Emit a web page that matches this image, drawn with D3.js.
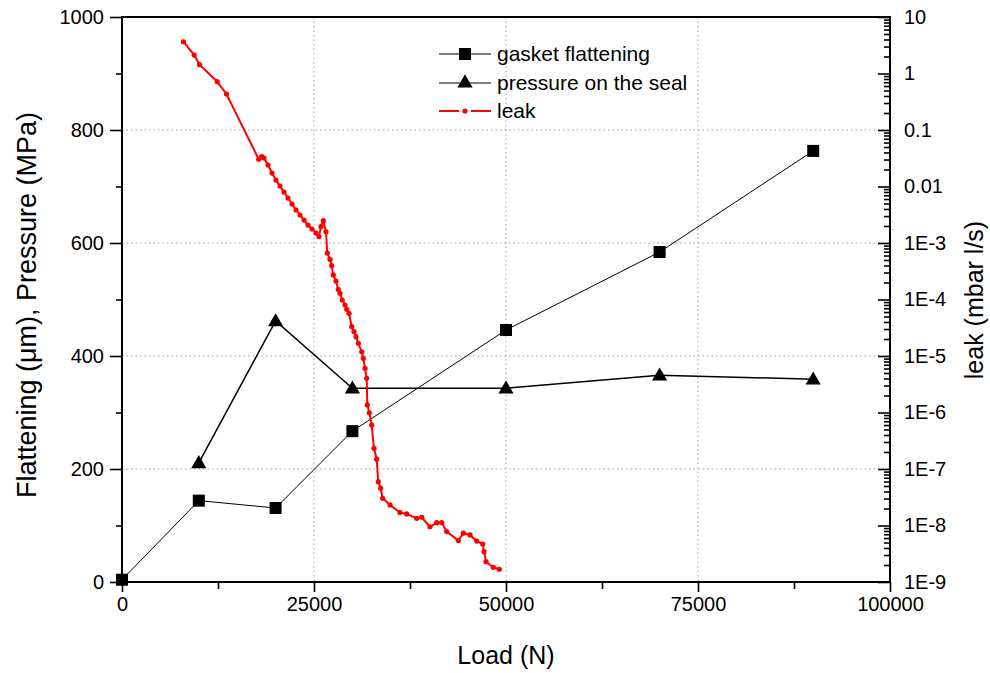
<!DOCTYPE html>
<html>
<head>
<meta charset="utf-8">
<script src="https://cdn.jsdelivr.net/npm/d3@7"></script>
<style>
  body { margin: 0; background: #fff; }
  text { font-family: "Liberation Sans", Arial, sans-serif; }
</style>
</head>
<body>
<script>
// gasket flattening and pressure (left axis)
const gasketLoad = [0, 10000, 20000, 30000, 50000, 70000, 90000];
const gasketFlat = [4, 144, 131, 267, 446, 584, 763];
const pressLoad = [10000, 20000, 30000, 50000, 70000, 90000];
const pressVal = [211, 462, 343, 343, 366, 359];

// leak (right axis, log)
const leakLoad = [8000, 9400, 10100, 12400, 13600, 17800, 18190, 18490, 19010, 19530,
  20050, 20570, 21090, 21610, 22140, 22660, 23180, 23700, 24220, 24740,
  25260, 25650, 25910, 26210, 26560, 26730, 27080, 27300, 27510, 27860,
  28160, 28390, 28680, 29040, 29260, 29560, 29910, 30210, 30470, 30770,
  31210, 31420, 31640, 31860, 31940, 32200, 32510, 32810, 33160, 33370,
  33680, 33940, 34900, 36200, 37070, 38370, 39020, 40100, 40980, 41630,
  42280, 43790, 44440, 45310, 46180, 46970, 47140, 47400, 48350, 49130];
const leakVal = [3.65, 2.12, 1.43, 0.716, 0.434, 0.0303, 0.0337, 0.0319, 0.024, 0.0173,
  0.013, 0.0102, 0.008, 0.00625, 0.0049, 0.00384, 0.00313, 0.00255, 0.00208, 0.00177,
  0.0015, 0.0013, 0.00195, 0.00248, 0.00158, 6.6e-4, 5.15e-4, 3.97e-4, 2.72e-4, 2.12e-4,
  1.51e-4, 1.29e-4, 9.8e-5, 8.0e-5, 6.7e-5, 5.7e-5, 3.3e-5, 2.7e-5, 2.2e-5, 1.68e-5,
  1.19e-5, 9.1e-6, 6.05e-6, 4.03e-6, 1.36e-6, 9.9e-7, 6.0e-7, 2.32e-7, 1.49e-7, 5.96e-8,
  4.55e-8, 3.03e-8, 2.31e-8, 1.69e-8, 1.6e-8, 1.34e-8, 1.4e-8, 9.5e-9, 1.12e-8, 1.12e-8,
  7.8e-9, 5.4e-9, 7.3e-9, 6.8e-9, 5.3e-9, 4.7e-9, 3.44e-9, 2.29e-9, 1.82e-9, 1.68e-9];

const xTicks = [0, 25000, 50000, 75000, 100000];
const yTicks = [0, 200, 400, 600, 800, 1000];
const leakTicks = [10, 1, 0.1, 0.01, 1e-3, 1e-4, 1e-5, 1e-6, 1e-7, 1e-8, 1e-9];
const leakLabels = ["10", "1", "0.1", "0.01", "1E-3", "1E-4", "1E-5", "1E-6", "1E-7", "1E-8", "1E-9"];
const legendNames = ["gasket flattening", "pressure on the seal", "leak"];

const W = 990, H = 673;
const pLeft = 122, pRight = 890, pTop = 17, pBottom = 582;

const svg = d3.select("body").append("svg")
  .attr("width", W)
  .attr("height", H);

const x = d3.scaleLinear().domain([0, 100000]).range([pLeft, pRight]);
const y = d3.scaleLinear().domain([0, 1000]).range([pBottom, pTop]);
const yLog = d3.scaleLog().domain([1e-9, 10]).range([pBottom, pTop]);

// grid
const grid = svg.append("g")
  .attr("stroke", "#a0a0a0")
  .attr("stroke-width", 1)
  .attr("stroke-dasharray", "1.5,3");
grid.selectAll(".gx").data([25000, 50000, 75000]).enter().append("line")
  .attr("x1", d => x(d)).attr("x2", d => x(d))
  .attr("y1", pTop).attr("y2", pBottom);
grid.selectAll(".gy").data([200, 400, 600, 800]).enter().append("line")
  .attr("x1", pLeft).attr("x2", pRight)
  .attr("y1", d => y(d)).attr("y2", d => y(d));

// axes
const fs = "20px";
const xAxis = d3.axisBottom(x).tickValues(xTicks).tickSize(10).tickPadding(5).tickFormat(d3.format("d"));
svg.append("g").attr("transform", `translate(0,${pBottom})`).call(xAxis);
const xMinor = d3.axisBottom(x).tickValues([12500, 37500, 62500, 87500]).tickSize(7).tickFormat("");
svg.append("g").attr("transform", `translate(0,${pBottom})`).call(xMinor);

const yAxis = d3.axisLeft(y).tickValues(yTicks).tickSize(12).tickPadding(6).tickFormat(d3.format("d"));
svg.append("g").attr("transform", `translate(${pLeft},0)`).call(yAxis);
const yMinor = d3.axisLeft(y).tickValues([100, 300, 500, 700, 900]).tickSize(6).tickFormat("");
svg.append("g").attr("transform", `translate(${pLeft},0)`).call(yMinor);

const rAxis = d3.axisRight(yLog).tickValues(leakTicks).tickSizeInner(-12).tickSizeOuter(0).tickPadding(14)
  .tickFormat((d, i) => leakLabels[i]);
svg.append("g").attr("transform", `translate(${pRight},0)`).call(rAxis);
const minorLog = [];
leakTicks.slice(1).forEach(p => { for (let k = 2; k <= 9; k++) minorLog.push(p * k); });
const rMinor = d3.axisRight(yLog).tickValues(minorLog).tickSizeInner(-6).tickSizeOuter(0).tickFormat("");
svg.append("g").attr("transform", `translate(${pRight},0)`).call(rMinor);

svg.selectAll(".domain").remove();
svg.selectAll(".tick line").attr("stroke", "#000").attr("stroke-width", 1.6);
svg.selectAll(".tick text").attr("font-size", fs).attr("fill", "#000")
  .attr("font-family", "Liberation Sans, Arial, sans-serif");

// frame
svg.append("rect")
  .attr("x", pLeft).attr("y", pTop)
  .attr("width", pRight - pLeft).attr("height", pBottom - pTop)
  .attr("fill", "none").attr("stroke", "#000").attr("stroke-width", 2);

// series
const line = d3.line();
svg.append("path")
  .attr("d", line(gasketLoad.map((d, i) => [x(d), y(gasketFlat[i])])))
  .attr("fill", "none").attr("stroke", "#000").attr("stroke-width", 1);
svg.append("path")
  .attr("d", line(pressLoad.map((d, i) => [x(d), y(pressVal[i])])))
  .attr("fill", "none").attr("stroke", "#000").attr("stroke-width", 1.5);
svg.append("path")
  .attr("d", line(leakLoad.map((d, i) => [x(d), yLog(leakVal[i])])))
  .attr("fill", "none").attr("stroke", "#ff0000").attr("stroke-width", 2);

const sq = 12;
svg.selectAll(".sq").data(gasketLoad).enter().append("rect")
  .attr("x", d => x(d) - sq / 2)
  .attr("y", (d, i) => y(gasketFlat[i]) - sq / 2)
  .attr("width", sq).attr("height", sq).attr("fill", "#000");

const tri = d3.symbol().type(d3.symbolTriangle).size(100);
svg.selectAll(".tri").data(pressLoad).enter().append("path")
  .attr("d", tri)
  .attr("transform", (d, i) => `translate(${x(d)},${y(pressVal[i]) + 1})`)
  .attr("fill", "#000");

svg.selectAll(".lk").data(leakLoad).enter().append("circle")
  .attr("cx", d => x(d))
  .attr("cy", (d, i) => yLog(leakVal[i]))
  .attr("r", 2.6).attr("fill", "#ff0000");

// legend
const lg = svg.append("g");
const ly = [54, 83, 111];
legendNames.forEach((name, i) => {
  const col = i === 2 ? "#ff0000" : "#000";
  if (i === 2) {
    lg.append("line").attr("x1", 439).attr("x2", 459).attr("y1", ly[i]).attr("y2", ly[i])
      .attr("stroke", col).attr("stroke-width", 2);
    lg.append("line").attr("x1", 471).attr("x2", 491).attr("y1", ly[i]).attr("y2", ly[i])
      .attr("stroke", col).attr("stroke-width", 2);
    lg.append("circle").attr("cx", 465).attr("cy", ly[i]).attr("r", 2.6).attr("fill", col);
  } else {
    lg.append("line").attr("x1", 439).attr("x2", 491).attr("y1", ly[i]).attr("y2", ly[i])
      .attr("stroke", col).attr("stroke-width", 1);
    if (i === 0) {
      lg.append("rect").attr("x", 465 - sq / 2).attr("y", ly[i] - sq / 2)
        .attr("width", sq).attr("height", sq).attr("fill", col);
    } else {
      lg.append("path").attr("d", tri).attr("transform", `translate(465,${ly[i]})`).attr("fill", col);
    }
  }
  lg.append("text").attr("x", 497).attr("y", ly[i]).attr("dy", "0.35em")
    .attr("font-size", "21px").attr("fill", "#000").text(name);
});

// axis titles
svg.append("text")
  .attr("x", (pLeft + pRight) / 2).attr("y", 664)
  .attr("text-anchor", "middle").attr("font-size", "25px").text("Load (N)");
svg.append("text")
  .attr("transform", `translate(36,305) rotate(-90)`)
  .attr("text-anchor", "middle").attr("font-size", "27px").text("Flattening (\u03bcm), Pressure (MPa)");
svg.append("text")
  .attr("transform", `translate(983,300) rotate(-90)`)
  .attr("text-anchor", "middle").attr("font-size", "25px").text("leak (mbar l/s)");
</script>
</body>
</html>
